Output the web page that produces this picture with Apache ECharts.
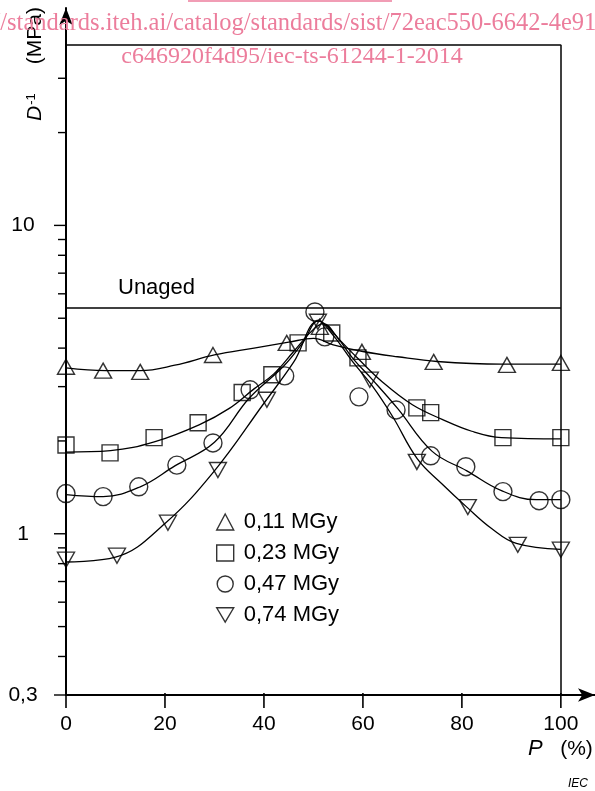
<!DOCTYPE html>
<html>
<head>
<meta charset="utf-8">
<script src="https://cdn.jsdelivr.net/npm/echarts@6/dist/echarts.min.js"></script>
<style>
html, body { margin:0; padding:0; background:#fff; }
#main { width:595px; height:791px; }
</style>
</head>
<body>
<div id="main"></div>
<script>
// doses (legend)
var doseNames = ['0,11 MGy', '0,23 MGy', '0,47 MGy', '0,74 MGy'];

// measured points [P %, D^-1 MPa]
var pts011 = [[0,3.48],[7.5,3.38],[15,3.35],[29.7,3.80],[44.6,4.16],[51.3,4.69],[59.8,3.89],[74.3,3.61],[89.1,3.53],[100,3.58]];
var pts023 = [[0,1.94],[8.9,1.83],[17.8,2.05],[26.7,2.29],[35.6,2.87],[41.6,3.28],[46.9,4.16],[53.7,4.48],[59,3.72],[70.9,2.56],[73.7,2.47],[88.3,2.05],[100,2.05]];
var pts047 = [[0,1.35],[7.5,1.32],[14.7,1.42],[22.4,1.67],[29.7,1.97],[37.2,2.93],[44.2,3.25],[50.3,5.24],[52.3,4.35],[59.2,2.78],[66.7,2.52],[73.7,1.79],[80.8,1.65],[88.3,1.37],[95.6,1.28],[100,1.29]];
var pts074 = [[0,0.824],[10.3,0.849],[20.6,1.086],[30.7,1.61],[40.6,2.72],[50.9,4.87],[61.4,3.16],[70.9,1.71],[81.2,1.22],[91.3,0.921],[100,0.888]];

// fitted curves
var fit011 = [[0,3.45],[8,3.38],[15,3.38],[22,3.52],[30,3.8],[38,4.0],[45,4.18],[50,4.3],[54,4.1],[60,3.9],[67,3.75],[75,3.62],[88,3.55],[100,3.55]];
var fit023 = [[0,1.84],[9,1.86],[18,1.99],[27,2.26],[33,2.55],[38,2.95],[42,3.3],[46,3.9],[50,4.6],[52,4.8],[55,4.3],[59,3.7],[64,3.1],[70,2.62],[76,2.35],[82,2.15],[88,2.05],[100,2.03]];
var fit047 = [[0,1.34],[7.5,1.32],[15,1.42],[22,1.66],[30,1.98],[37,2.75],[44,3.5],[48,4.2],[51,4.9],[54,4.5],[58,3.7],[62,3.15],[67,2.55],[74,1.85],[81,1.6],[88,1.38],[95,1.29],[100,1.29]];
var fit074 = [[0,0.81],[10,0.84],[20,1.08],[30,1.6],[40,2.65],[46,3.6],[51,4.9],[54,4.4],[58,3.6],[62,3.0],[66,2.4],[71,1.75],[76,1.45],[81,1.22],[86,1.04],[91,0.93],[100,0.89]];

var unaged = 5.4;
var frameTop = 38.5;

// axes
var xMin = 0, xMax = 106.9, xFrame = 100;
var xTicks = [0, 20, 40, 60, 80, 100];
var yMin = 0.3, yMax = 50.7;
var yMajorTicks = [0.3, 1, 10];
var yTickLabels = ['0,3', '1', '10'];
var yMinorTicks = [0.4, 0.5, 0.6, 0.7, 0.8, 0.9, 2, 3, 4, 5, 6, 7, 8, 9, 20, 30];

var FONT = 'Liberation Sans, Arial, sans-serif';
var SERIF = 'Liberation Serif, Times New Roman, serif';
var PINK = '#ec7d9c';

var markStyle = {color:'rgba(0,0,0,0)', borderColor:'#000', borderWidth:1.4};
var downTri = 'path://M0,0L20,0L10,17Z';

function scatter(name, data, symbol, size){
    return {
        name:name, type:'scatter', data:data, symbol:symbol, symbolSize:size,
        itemStyle:markStyle, clip:false, z:4
    };
}
function fit(name, data){
    return {
        name:name, type:'line', data:data, smooth:0.4, showSymbol:false, symbol:'none',
        lineStyle:{color:'#000', width:1.3}, z:3
    };
}

var yTickData = [];
yMajorTicks.forEach(function(v){ yTickData.push([v, 12]); });
yMinorTicks.forEach(function(v){ yTickData.push([v, 8]); });
var xTickData = xTicks.map(function(v){ return [v, 13]; });

var series = [
    scatter(doseNames[0], pts011, 'triangle', [17, 15]),
    scatter(doseNames[1], pts023, 'rect', 16),
    scatter(doseNames[2], pts047, 'circle', 18),
    scatter(doseNames[3], pts074, downTri, [17, 15]),
    fit('f1', fit011),
    fit('f2', fit023),
    fit('f3', fit047),
    fit('f4', fit074),
    {
        name:'frame', type:'line', data:[], symbol:'none',
        markLine:{
            silent:true, symbol:'none', animation:false,
            lineStyle:{color:'#000', width:1.5, type:'solid'},
            label:{show:false},
            data:[
                [{coord:[xMin, frameTop]}, {coord:[xFrame, frameTop]}],
                [{coord:[xFrame, yMin]}, {coord:[xFrame, frameTop]}],
                [{coord:[xMin, unaged], label:{show:true, formatter:'Unaged', position:'insideStartTop',
                    distance:[52, 9], color:'#000', fontSize:22, fontFamily:FONT}},
                 {coord:[xFrame, unaged]}]
            ]
        }
    },
    {
        name:'yticks', type:'custom', data:yTickData, silent:true, clip:false, z:5,
        renderItem:function(params, api){
            var p = api.coord([xMin, api.value(0)]);
            return {type:'line', shape:{x1:p[0] - api.value(1), y1:p[1], x2:p[0], y2:p[1]},
                style:{stroke:'#000', lineWidth:1.4}};
        }
    },
    {
        name:'xticks', type:'custom', data:xTickData, silent:true, clip:false, z:5,
        renderItem:function(params, api){
            var p = api.coord([api.value(0), yMin]);
            return {type:'line', shape:{x1:p[0], y1:p[1] - 2, x2:p[0], y2:p[1] + api.value(1)},
                style:{stroke:'#000', lineWidth:1.6}};
        }
    }
];

var option = {
    animation:false,
    backgroundColor:'#fff',
    textStyle:{fontFamily:FONT},
    grid:{left:66, right:0, top:8, bottom:96, containLabel:false, outerBoundsMode:'none'},
    legend:{
        data:doseNames, orient:'vertical', left:216, top:511, padding:0,
        itemWidth:17, itemHeight:16, itemGap:9,
        itemStyle:{color:'rgba(0,0,0,0)', borderColor:'#000', borderWidth:1.4},
        textStyle:{fontSize:22, color:'#000', fontFamily:FONT, padding:[0,0,0,5]}
    },
    xAxis:{
        type:'value', min:xMin, max:xMax, interval:20,
        axisLine:{show:true, lineStyle:{color:'#000', width:2}, symbol:['none','arrow'], symbolSize:[10,17]},
        axisTick:{show:false},
        splitLine:{show:false},
        axisLabel:{
            margin:19, fontSize:21, color:'#000', fontFamily:FONT,
            formatter:function(v){ return xTicks.indexOf(Math.round(v)) >= 0 && Math.abs(v - Math.round(v)) < 1e-6 ? String(Math.round(v)) : ''; }
        }
    },
    yAxis:{
        type:'log', logBase:10, min:yMin, max:yMax,
        axisLine:{show:true, lineStyle:{color:'#000', width:2}, symbol:['none','arrow'], symbolSize:[10,17]},
        axisTick:{show:false},
        splitLine:{show:false},
        minorTick:{show:false},
        axisLabel:{
            margin:43, align:'center', fontSize:21, color:'#000', fontFamily:FONT,
            formatter:function(v){
                for(var i = 0; i < yMajorTicks.length; i++){
                    if(Math.abs(v - yMajorTicks[i]) / yMajorTicks[i] < 1e-4) return yTickLabels[i];
                }
                return '';
            }
        }
    },
    graphic:[
        {type:'text', x:35, y:64, rotation:Math.PI/2, z:10,
            style:{text:'{i|D}{s|-1}{n|     (MPa)}', align:'center', verticalAlign:'middle', fill:'#000',
                font:'21px ' + FONT,
                rich:{i:{fontStyle:'italic', fontSize:21, fontFamily:FONT},
                      s:{fontSize:13, fontFamily:FONT, verticalAlign:'top', padding:[0,0,8,1]},
                      n:{fontSize:21, fontFamily:FONT}}}},
        {type:'text', x:528, y:749, z:10,
            style:{text:'{i|P}{n|   (%)}', align:'left', verticalAlign:'middle', fill:'#000',
                font:'21px ' + FONT,
                rich:{i:{fontStyle:'italic', fontSize:22, fontFamily:FONT},
                      n:{fontSize:21, fontFamily:FONT}}}},
        {type:'text', x:568, y:784, z:10,
            style:{text:'IEC', align:'left', verticalAlign:'middle', fill:'#000',
                font:'italic 12px ' + FONT}},
        {type:'line', z:20, shape:{x1:188, y1:1, x2:392, y2:1}, style:{stroke:PINK, lineWidth:1.5}},
        {type:'text', x:-61, y:24, z:20,
            style:{text:'https://standards.iteh.ai/catalog/standards/sist/72eac550-6642-4e91', align:'left',
                verticalAlign:'middle', fill:PINK, font:'24.5px ' + SERIF}},
        {type:'text', x:292, y:57, z:20,
            style:{text:'c646920f4d95/iec-ts-61244-1-2014', align:'center',
                verticalAlign:'middle', fill:PINK, font:'24px ' + SERIF}}
    ],
    series:series
};

echarts.init(document.getElementById('main')).setOption(option);
</script>
</body>
</html>
